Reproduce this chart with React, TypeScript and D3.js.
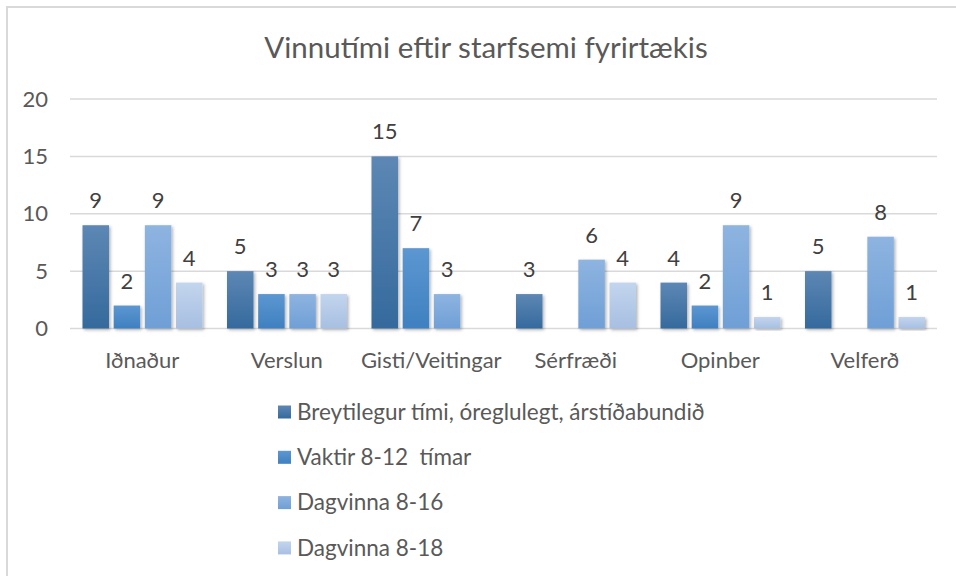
import React, { useEffect, useRef } from "react";
import * as d3 from "d3";

const title = "Vinnutími eftir starfsemi fyrirtækis";
const categories = ["Iðnaður", "Verslun", "Gisti/Veitingar", "Sérfræði", "Opinber", "Velferð"];
const seriesNames = [
  "Breytilegur tími, óreglulegt, árstíðabundið",
  "Vaktir 8-12  tímar",
  "Dagvinna 8-16",
  "Dagvinna 8-18",
];
// one array per series, in category order (null = no bar)
const breytilegur = [9, 5, 15, 3, 4, 5];
const vaktir = [2, 3, 7, null, 2, null];
const dagvinna16 = [9, 3, 3, 6, 9, 8];
const dagvinna18 = [4, 3, null, 4, 1, 1];
const yTicks = [0, 5, 10, 15, 20];

// top / bottom gradient stops per series
const colors = [
  ["#5d87b4", "#356a9d"],
  ["#5c97d1", "#3f80c0"],
  ["#8eb4e0", "#6f9fd6"],
  ["#c3d5ee", "#a7bfe1"],
];

const FONT = "Lato, 'Open Sans', sans-serif";
const TEXT = "#595959";

export default function App() {
  const ref = useRef<SVGSVGElement>(null);

  useEffect(() => {
    const svg = d3.select(ref.current);
    svg.selectAll("*").remove();

    const values = [breytilegur, vaktir, dagvinna16, dagvinna18];

    const defs = svg.append("defs");
    colors.forEach((c, i) => {
      const g = defs
        .append("linearGradient")
        .attr("id", `grad${i}`)
        .attr("x1", 0)
        .attr("y1", 0)
        .attr("x2", 0)
        .attr("y2", 1);
      g.append("stop").attr("offset", "0%").attr("stop-color", c[0]);
      g.append("stop").attr("offset", "100%").attr("stop-color", c[1]);
    });
    defs
      .append("filter")
      .attr("id", "shadow")
      .attr("x", "-20%")
      .attr("y", "-10%")
      .attr("width", "150%")
      .attr("height", "130%")
      .append("feDropShadow")
      .attr("dx", 1.5)
      .attr("dy", 1.5)
      .attr("stdDeviation", 1.5)
      .attr("flood-color", "#000")
      .attr("flood-opacity", 0.3);

    // chart frame
    svg
      .append("rect")
      .attr("x", 7)
      .attr("y", 7)
      .attr("width", 980)
      .attr("height", 600)
      .attr("fill", "#fff")
      .attr("stroke", "#d9d9d9")
      .attr("stroke-width", 2);

    svg
      .append("text")
      .attr("x", 486)
      .attr("y", 58)
      .attr("text-anchor", "middle")
      .attr("font-family", FONT)
      .attr("font-size", 29.5)
      .attr("fill", TEXT)
      .text(title);

    const x0 = d3.scaleBand().domain(categories).range([70, 937]).padding(0);
    const x1 = d3
      .scaleBand()
      .domain(d3.range(4).map(String))
      .range([12.5, 132.5])
      .paddingInner(0.15);
    const y = d3.scaleLinear().domain([0, 20]).range([328.5, 99]);

    // grid + y labels
    const grid = svg.append("g");
    grid
      .selectAll("line")
      .data(yTicks)
      .join("line")
      .attr("x1", 70)
      .attr("x2", 937)
      .attr("y1", (d) => y(d))
      .attr("y2", (d) => y(d))
      .attr("stroke", "#d9d9d9")
      .attr("stroke-width", 1.5);
    grid
      .selectAll("text")
      .data(yTicks)
      .join("text")
      .attr("x", 48)
      .attr("y", (d) => y(d))
      .attr("dy", "0.35em")
      .attr("text-anchor", "end")
      .attr("font-family", FONT)
      .attr("font-size", 22)
      .attr("fill", TEXT)
      .text((d) => d);

    // bars
    values.forEach((vals, si) => {
      const pts = categories
        .map((c, ci) => ({ c, v: vals[ci] }))
        .filter((d) => d.v != null && d.v > 0) as { c: string; v: number }[];
      const g = svg.append("g");
      g.selectAll("rect")
        .data(pts)
        .join("rect")
        .attr("x", (d) => x0(d.c)! + x1(String(si))!)
        .attr("y", (d) => y(d.v))
        .attr("width", x1.bandwidth())
        .attr("height", (d) => y(0) - y(d.v))
        .attr("fill", `url(#grad${si})`)
        .attr("filter", "url(#shadow)");
      g.selectAll("text")
        .data(pts)
        .join("text")
        .attr("x", (d) => x0(d.c)! + x1(String(si))! + x1.bandwidth() / 2)
        .attr("y", (d) => y(d.v) - 17)
        .attr("text-anchor", "middle")
        .attr("font-family", FONT)
        .attr("font-size", 22)
        .attr("fill", "#404040")
        .text((d) => d.v);
    });

    // category labels
    svg
      .append("g")
      .selectAll("text")
      .data(categories)
      .join("text")
      .attr("x", (d) => x0(d)! + x0.bandwidth() / 2)
      .attr("y", 368)
      .attr("text-anchor", "middle")
      .attr("font-family", FONT)
      .attr("font-size", 22)
      .attr("fill", TEXT)
      .text((d) => d);

    // legend
    const legend = svg
      .append("g")
      .selectAll("g")
      .data(seriesNames)
      .join("g")
      .attr("transform", (_d, i) => `translate(278, ${412 + i * 45.3})`);
    legend
      .append("rect")
      .attr("x", 0)
      .attr("y", -6.5)
      .attr("width", 13)
      .attr("height", 13)
      .attr("fill", (_d, i) => `url(#grad${i})`);
    legend
      .append("text")
      .attr("x", 19)
      .attr("dy", "0.35em")
      .attr("font-family", FONT)
      .attr("font-size", 22.5)
      .attr("fill", TEXT)
      .style("white-space", "pre")
      .text((d) => d);
  }, []);

  return (
    <svg
      ref={ref}
      width={956}
      height={576}
      style={{ position: "fixed", top: 0, left: 0, background: "#fff" }}
    />
  );
}
